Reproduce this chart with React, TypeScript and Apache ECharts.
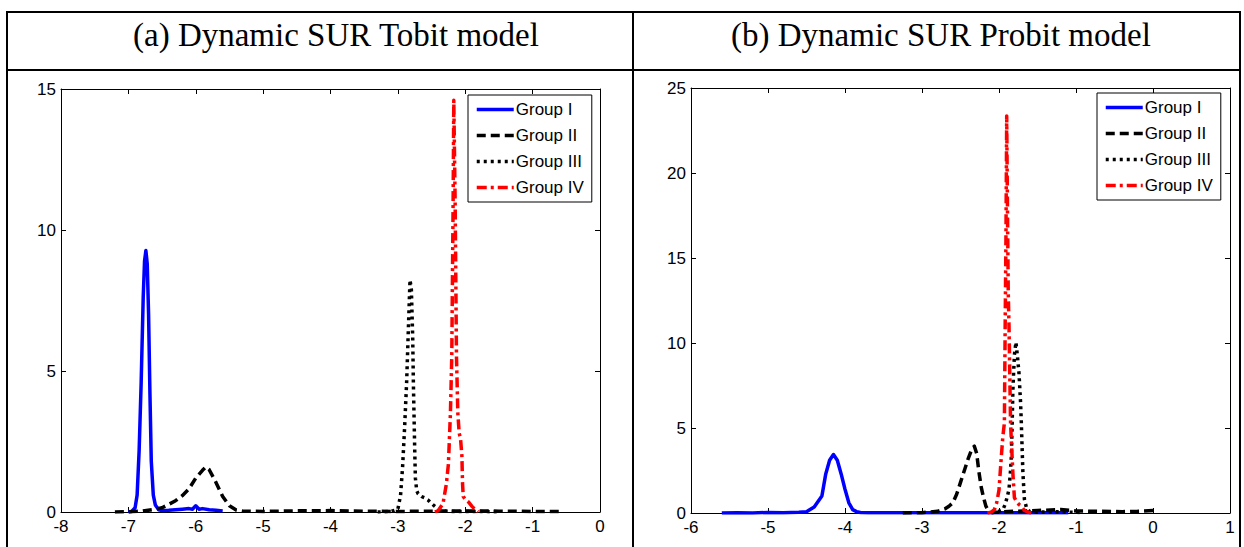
import React, { useEffect, useRef } from "react";
import * as echarts from "echarts";

const groupNames = ["Group I", "Group II", "Group III", "Group IV"];
const titles = ["(a) Dynamic SUR Tobit model", "(b) Dynamic SUR Probit model"];

// Panel (a) Tobit
const tobitXTicks = [-8, 0];
const tobitYTicks = [0, 15];
const tobitG1X = [-7.0, -6.95, -6.9, -6.87, -6.84, -6.81, -6.78, -6.76, -6.74, -6.72, -6.7, -6.68, -6.66, -6.63, -6.6, -6.55, -6.5, -6.4, -6.3, -6.2, -6.1, -6.05, -6.0, -5.95, -5.9, -5.8, -5.7, -5.6];
const tobitG1Y = [0.0, 0.02, 0.15, 0.6, 2.2, 4.6, 7.6, 8.9, 9.27, 8.8, 7.0, 4.2, 1.8, 0.6, 0.25, 0.08, 0.05, 0.06, 0.08, 0.1, 0.12, 0.1, 0.22, 0.1, 0.12, 0.08, 0.06, 0.04];
const tobitG2X = [-7.2, -7.0, -6.8, -6.6, -6.5, -6.4, -6.3, -6.2, -6.1, -6.0, -5.9, -5.85, -5.8, -5.7, -5.6, -5.5, -5.4, -5.3, -5.2, -5.0, -4.5, -4.0, -3.5, -3.0, -2.5, -2.0, -1.5, -1.0, -0.55];
const tobitG2Y = [0.0, 0.01, 0.03, 0.1, 0.15, 0.27, 0.4, 0.58, 0.82, 1.2, 1.48, 1.6, 1.5, 1.05, 0.55, 0.22, 0.07, 0.03, 0.03, 0.02, 0.04, 0.05, 0.03, 0.02, 0.03, 0.04, 0.03, 0.02, 0.02];
const tobitG3X = [-3.3, -3.1, -3.0, -2.96, -2.93, -2.9, -2.87, -2.84, -2.82, -2.8, -2.78, -2.77, -2.75, -2.74, -2.72, -2.7, -2.65, -2.6, -2.55, -2.5, -2.45, -2.4, -2.35, -2.3, -2.2, -2.0, -1.5];
const tobitG3Y = [0.0, 0.02, 0.1, 0.6, 1.6, 3.0, 4.6, 6.8, 8.23, 7.9, 6.2, 4.6, 2.2, 1.2, 0.75, 0.65, 0.55, 0.5, 0.42, 0.3, 0.2, 0.1, 0.05, 0.03, 0.02, 0.02, 0.01];
const tobitG4X = [-2.45, -2.4, -2.33, -2.28, -2.25, -2.22, -2.2, -2.18, -2.17, -2.15, -2.13, -2.11, -2.09, -2.07, -2.05, -2.04, -2.03, -2.0, -1.95, -1.9, -1.85, -1.81];
const tobitG4Y = [0.0, 0.05, 0.3, 1.0, 1.7, 3.5, 5.5, 11.0, 14.6, 11.0, 5.5, 3.5, 2.8, 2.6, 2.0, 1.0, 0.55, 0.45, 0.35, 0.2, 0.08, 0.0];

// Panel (b) Probit
const probitXTicks = [-6, 1];
const probitYTicks = [0, 25];
const probitG1X = [-5.6, -5.4, -5.2, -5.0, -4.8, -4.6, -4.5, -4.4, -4.3, -4.25, -4.2, -4.15, -4.1, -4.05, -4.0, -3.95, -3.9, -3.85, -3.8, -3.7, -3.5, -3.0, -2.5, -2.0, -1.5, -1.1];
const probitG1Y = [0.0, 0.02, 0.0, 0.03, 0.02, 0.05, 0.08, 0.35, 1.0, 2.3, 3.1, 3.44, 3.1, 2.3, 1.4, 0.6, 0.2, 0.08, 0.03, 0.02, 0.01, 0.01, 0.01, 0.01, 0.01, 0.01];
const probitG2X = [-3.25, -3.0, -2.8, -2.7, -2.65, -2.6, -2.55, -2.5, -2.45, -2.4, -2.35, -2.32, -2.29, -2.26, -2.23, -2.2, -2.17, -2.14, -2.1, -2.0, -1.8, -1.5, -1.2, -1.0, -0.7, -0.4, -0.2, 0.02];
const probitG2Y = [0.0, 0.02, 0.1, 0.25, 0.4, 0.6, 1.1, 1.8, 2.5, 3.2, 3.8, 3.93, 3.5, 2.4, 1.5, 0.9, 0.4, 0.15, 0.05, 0.05, 0.1, 0.15, 0.2, 0.12, 0.1, 0.08, 0.1, 0.15];
const probitG3X = [-2.1, -2.0, -1.95, -1.92, -1.89, -1.87, -1.85, -1.84, -1.83, -1.82, -1.8, -1.78, -1.76, -1.74, -1.72, -1.71, -1.69, -1.67, -1.64, -1.6, -1.5, -1.3, -1.1, -0.9];
const probitG3Y = [0.0, 0.1, 0.2, 0.5, 1.0, 1.4, 2.5, 3.3, 5.0, 7.2, 9.3, 10.05, 9.2, 8.2, 6.5, 5.3, 2.4, 0.8, 0.25, 0.08, 0.05, 0.08, 0.05, 0.03];
const probitG4X = [-2.15, -2.1, -2.06, -2.03, -2.0, -1.97, -1.95, -1.93, -1.92, -1.91, -1.9, -1.89, -1.88, -1.87, -1.85, -1.82, -1.8, -1.77, -1.74, -1.71, -1.67, -1.62, -1.58];
const probitG4Y = [0.0, 0.05, 0.2, 0.6, 1.35, 3.3, 4.5, 5.3, 11.0, 16.0, 23.36, 18.0, 13.0, 11.0, 5.3, 2.35, 0.9, 0.65, 0.5, 0.4, 0.15, 0.05, 0.0];

const colors = ["#0000ff", "#000000", "#000000", "#ff0000"];
const dashes: (number[] | "solid")[] = ["solid", [9, 5], [3, 4], [10, 4, 3, 4]];

const zip = (xs: number[], ys: number[]) => xs.map((x, i) => [x, ys[i]]);

const FONT = "Liberation Sans";

function xAxisPair(grid: number, ticks: number[]) {
  const base = {
    gridIndex: grid,
    type: "value" as const,
    min: ticks[0],
    max: ticks[1],
    interval: 1,
    splitLine: { show: false },
    axisLine: { onZero: false, lineStyle: { color: "#000", width: 1 } },
    axisTick: { inside: true, length: 5, lineStyle: { color: "#000", width: 1 } },
  };
  return [
    { ...base, position: "bottom", axisLabel: { color: "#000", fontSize: 17, fontFamily: FONT, margin: 6 } },
    { ...base, position: "top", axisLabel: { show: false } },
  ];
}

function yAxisPair(grid: number, ticks: number[]) {
  const base = {
    gridIndex: grid,
    type: "value" as const,
    min: ticks[0],
    max: ticks[1],
    interval: 5,
    splitLine: { show: false },
    axisLine: { onZero: false, lineStyle: { color: "#000", width: 1 } },
    axisTick: { inside: true, length: 5, lineStyle: { color: "#000", width: 1 } },
  };
  return [
    { ...base, position: "left", axisLabel: { color: "#000", fontSize: 17, fontFamily: FONT, margin: 5 } },
    { ...base, position: "right", axisLabel: { show: false } },
  ];
}

function makeSeries(axisIdx: number, sets: number[][][]) {
  return sets.map((d, i) => ({
    type: "line",
    name: groupNames[i],
    xAxisIndex: axisIdx,
    yAxisIndex: axisIdx,
    data: d,
    symbol: "none",
    smooth: false,
    color: colors[i],
    itemStyle: { color: colors[i] },
    lineStyle: { color: colors[i], width: 3.5, type: dashes[i], cap: "butt", join: "round" },
    z: 2 + i,
  }));
}

function legendAt(left: number, top: number) {
  return {
    orient: "vertical",
    left,
    top,
    padding: [6, 8, 6, 7],
    itemWidth: 37,
    itemHeight: 14,
    itemGap: 9,
    selectedMode: false,
    data: groupNames,
    borderColor: "#000",
    borderWidth: 1,
    borderRadius: 0,
    backgroundColor: "#fff",
    itemStyle: { opacity: 0 },
    lineStyle: { width: 3.5 },
    textStyle: { color: "#000", fontSize: 17, fontFamily: FONT, padding: [0, 0, 0, -3] },
  };
}

export default function App() {
  const ref = useRef<HTMLDivElement>(null);
  useEffect(() => {
    document.body.style.margin = "0";
    if (!ref.current) return;
    const chart = echarts.init(ref.current, undefined, { renderer: "svg" });
    const lineStyle = { stroke: "#000", lineWidth: 2 };
    chart.setOption({
      animation: false,
      backgroundColor: "#fff",
      grid: [
        { left: 61, top: 89, width: 539, height: 423 },
        { left: 691, top: 88, width: 539, height: 425 },
      ],
      xAxis: [...xAxisPair(0, tobitXTicks), ...xAxisPair(1, probitXTicks)],
      yAxis: [...yAxisPair(0, tobitYTicks), ...yAxisPair(1, probitYTicks)],
      legend: [legendAt(468, 95), legendAt(1097, 93)],
      series: [
        ...makeSeries(0, [zip(tobitG1X, tobitG1Y), zip(tobitG2X, tobitG2Y), zip(tobitG3X, tobitG3Y), zip(tobitG4X, tobitG4Y)]),
        ...makeSeries(2, [zip(probitG1X, probitG1Y), zip(probitG2X, probitG2Y), zip(probitG3X, probitG3Y), zip(probitG4X, probitG4Y)]),
      ],
      graphic: [
        { type: "line", shape: { x1: 6, y1: 12, x2: 1241, y2: 12 }, style: lineStyle },
        { type: "line", shape: { x1: 6, y1: 70, x2: 1241, y2: 70 }, style: lineStyle },
        { type: "line", shape: { x1: 7, y1: 12, x2: 7, y2: 547 }, style: lineStyle },
        { type: "line", shape: { x1: 633, y1: 12, x2: 633, y2: 547 }, style: lineStyle },
        { type: "line", shape: { x1: 1240, y1: 12, x2: 1240, y2: 547 }, style: lineStyle },
        {
          type: "text",
          x: 133,
          y: 35,
          style: { text: titles[0], fill: "#000", fontSize: 33, fontFamily: "Liberation Serif", textAlign: "left", textVerticalAlign: "middle" },
        },
        {
          type: "text",
          x: 731,
          y: 35,
          style: { text: titles[1], fill: "#000", fontSize: 33, fontFamily: "Liberation Serif", textAlign: "left", textVerticalAlign: "middle" },
        },
      ],
    });
    return () => chart.dispose();
  }, []);
  return <div ref={ref} style={{ position: "absolute", left: 0, top: 0, width: 1244, height: 547 }} />;
}
